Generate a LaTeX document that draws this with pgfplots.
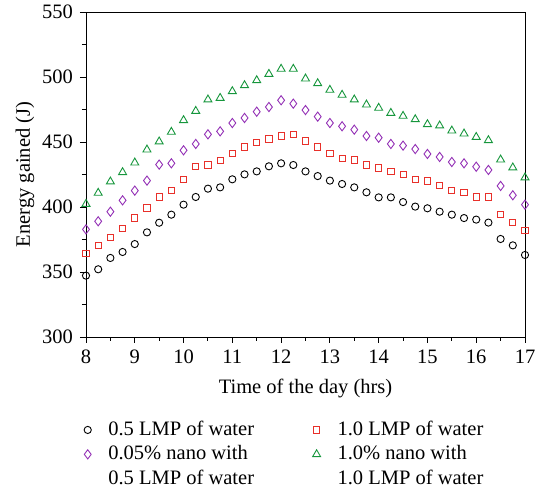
\documentclass[border=0pt]{standalone}
\usepackage{pgfplots}
\pgfplotsset{compat=1.18}
\usepackage{fontspec}
\setmainfont{Liberation Serif}
\definecolor{cred}{HTML}{E8302A}
\definecolor{cpur}{HTML}{9330B5}
\definecolor{cgrn}{HTML}{16963C}
\pgfplotsset{blankleg/.style={legend image code/.code={}}}
\begin{document}
\begin{tikzpicture}
\fontsize{20.5}{24}\selectfont
\path[use as bounding box] (-86pt,-155pt) rectangle (456pt,337pt);
\begin{axis}[
  at={(0,0)}, anchor=south west,
  scale only axis, width=439pt, height=325pt,
  xmin=8, xmax=17, ymin=300, ymax=550,
  xtick={8,...,17}, ytick={300,350,...,550},
  minor xtick={8.5,9.5,...,16.5}, minor ytick={325,375,...,525},
  tick align=outside, major tick length=6pt, minor tick length=4pt,
  xtick pos=bottom, ytick pos=left,
  tick style={black, line width=0.9pt},
  axis line style={line width=0.9pt},
  /pgf/number format/assume math mode=true,
  ticklabel style={font=\fontsize{20.5}{24}\selectfont},
  label style={font=\fontsize{20.5}{24}\selectfont},
  xlabel={Time of the day (hrs)},
  ylabel={Energy gained (J)},
  xlabel style={yshift=-1pt},
  ylabel style={yshift=-6pt},
  legend columns=2,
  legend style={draw=none, fill=none, at={(axis description cs:0,0)}, anchor=north west,
    xshift=-10pt, yshift=-80pt, font=\fontsize{20.5}{24}\selectfont,
    /tikz/every odd column/.append style={column sep=15pt},
    /tikz/every even column/.append style={column sep=52pt},
    cells={anchor=west}, row sep=3pt},
]
\addplot[only marks, mark=o, mark size=3.6pt, black, line width=0.9pt] coordinates {
(8,347.2)(8.25,352.1)(8.5,360.8)(8.75,365.4)(9,371.5)(9.25,380.5)(9.5,387.9)(9.75,394.1)
(10,401.8)(10.25,407.7)(10.5,414.1)(10.75,415.1)(11,421.3)(11.25,425.1)(11.5,427.4)(11.75,431.3)
(12,433.6)(12.25,432.3)(12.5,427.4)(12.75,423.8)(13,420.3)(13.25,417.7)(13.5,415.1)(13.75,411.3)
(14,407.4)(14.25,407.4)(14.5,403.8)(14.75,400.3)(15,399.0)(15.25,396.4)(15.5,394.1)(15.75,391.5)
(16,390.3)(16.25,388.0)(16.5,375.4)(16.75,370.5)(17,363.1)};
\addlegendentry{0.5 LMP of water}
\addplot[only marks, mark=square, mark size=3.1pt, cred, line width=0.9pt] coordinates {
(8,364.1)(8.25,370.3)(8.5,376.7)(8.75,383.8)(9,391.5)(9.25,399.2)(9.5,407.7)(9.75,412.6)
(10,421.3)(10.25,431.3)(10.5,432.3)(10.75,435.9)(11,441.0)(11.25,446.2)(11.5,449.7)(11.75,452.3)
(12,454.6)(12.25,455.9)(12.5,450.8)(12.75,446.2)(13,441.3)(13.25,437.4)(13.5,436.2)(13.75,432.3)
(14,430.0)(14.25,427.4)(14.5,425.1)(14.75,421.3)(15,420.0)(15.25,416.4)(15.5,412.6)(15.75,411.3)
(16,407.7)(16.25,407.7)(16.5,394.1)(16.75,387.9)(17,381.8)};
\addlegendentry{1.0 LMP of water}
\addplot[only marks, mark=diamond, mark size=4.6pt, cpur, line width=0.9pt] coordinates {
(8,382.8)(8.25,389.0)(8.5,396.4)(8.75,405.1)(9,412.6)(9.25,420.3)(9.5,432.6)(9.75,433.6)
(10,443.6)(10.25,448.5)(10.5,455.9)(10.75,458.2)(11,464.6)(11.25,468.5)(11.5,473.3)(11.75,476.9)
(12,482.1)(12.25,479.5)(12.5,474.6)(12.75,469.5)(13,464.6)(13.25,462.1)(13.5,459.5)(13.75,454.6)
(14,453.3)(14.25,448.5)(14.5,447.2)(14.75,444.6)(15,440.8)(15.25,438.5)(15.5,434.6)(15.75,433.6)
(16,431.0)(16.25,428.5)(16.5,416.2)(16.75,409.0)(17,401.8)};
\addlegendentry{0.05\% nano with}
\addplot[only marks, mark=triangle, mark size=4.6pt, cgrn, line width=0.9pt] coordinates {
(8,402.3)(8.25,410.8)(8.5,419.5)(8.75,426.7)(9,434.1)(9.25,444.1)(9.5,450.3)(9.75,457.7)
(10,466.7)(10.25,473.8)(10.5,482.6)(10.75,483.8)(11,489.0)(11.25,493.6)(11.5,497.4)(11.75,502.3)
(12,506.2)(12.25,506.2)(12.5,498.7)(12.75,495.1)(13,490.0)(13.25,486.2)(13.5,482.6)(13.75,478.7)
(14,476.2)(14.25,472.3)(14.5,470.0)(14.75,467.4)(15,463.6)(15.25,462.6)(15.5,458.7)(15.75,456.4)
(16,453.8)(16.25,451.3)(16.5,436.4)(16.75,430.3)(17,422.6)};
\addlegendentry{1.0\% nano with}
\addlegendimage{blankleg}
\addlegendentry{0.5 LMP of water}
\addlegendimage{blankleg}
\addlegendentry{1.0 LMP of water}
\end{axis}
\end{tikzpicture}
\end{document}
